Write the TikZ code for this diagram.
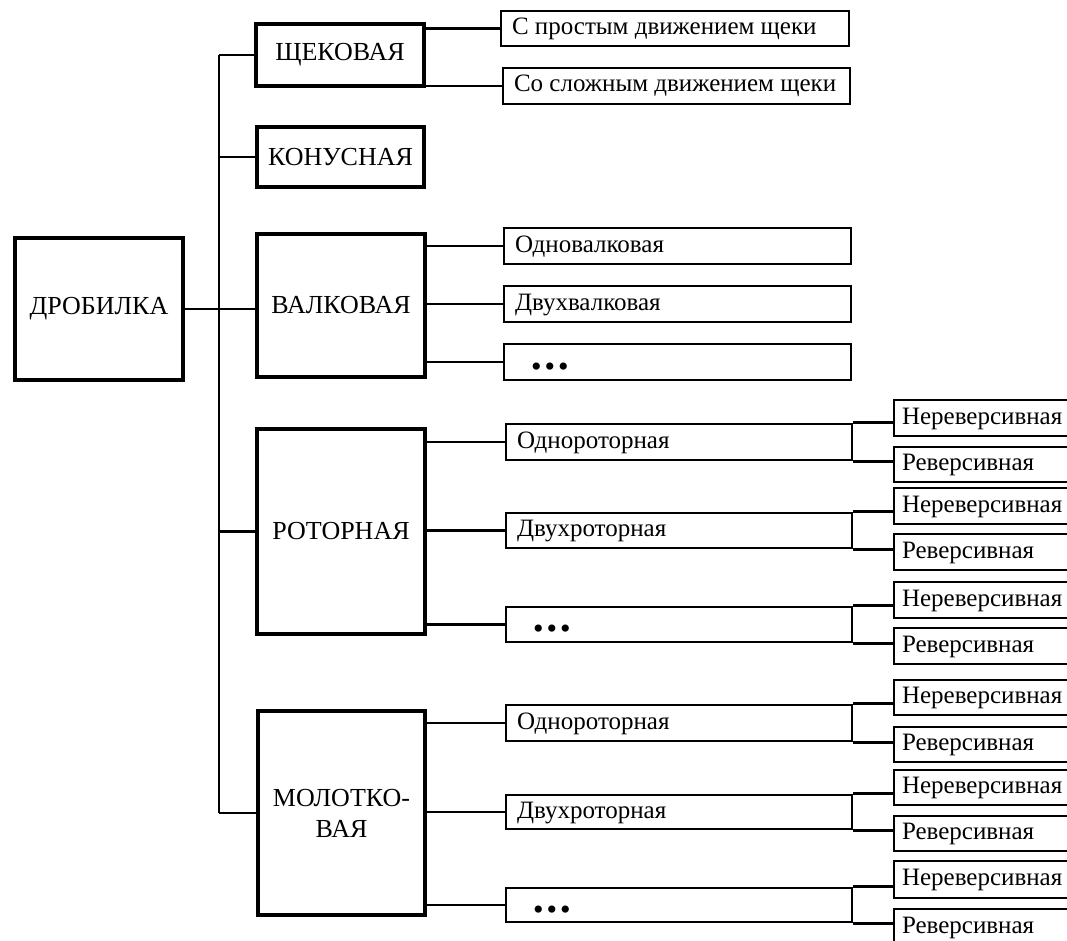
\documentclass[tikz,border=0pt]{standalone}
\usepackage{fontspec}
\setmainfont{Liberation Serif}
\newcommand\mkmain[6]{%
  \node[mainbox, minimum width={#5-#3}, minimum height={#6-#4}] (#1) at ({(#3+#5)/2},{(#4+#6)/2}) {#2};}
\newcommand\mksub[6]{%
  \pgfmathsetmacro\mytw{#5-#3-22}%
  \node[subbox, minimum width={#5-#3}, minimum height={#6-#4}] (#1) at ({(#3+#5)/2},{(#4+#6)/2}) {\makebox[\mytw pt][l]{#2}};}
\newcommand\mkleaf[6]{%
  \pgfmathsetmacro\mytw{#5-#3-16}%
  \node[leafbox, minimum width={#5-#3}, minimum height={#6-#4}] (#1) at ({(#3+#5)/2},{(#4+#6)/2}) {\makebox[\mytw pt][l]{#2}};}
\newcommand\mydots{\hspace{16pt}\raisebox{-8pt}{\fontsize{30}{30}\selectfont\textbullet\hspace{3pt}\textbullet\hspace{3pt}\textbullet}}
\begin{document}
\begin{tikzpicture}[x=1pt,y=-1pt,
  mainbox/.style={draw, line width=4.5pt, font=\fontsize{26}{31}\selectfont, align=center, inner sep=0pt},
  subbox/.style={draw, line width=2.8pt, font=\fontsize{25}{30}\selectfont, inner sep=0pt, text height=17pt, text depth=5pt},
  leafbox/.style={draw, line width=2.8pt, font=\fontsize{25}{30}\selectfont, inner sep=0pt, text height=17pt, text depth=5pt},
  link/.style={line width=2.8pt}]
\fill[white] (0,0) rectangle (1067,941);
\clip (0,0) rectangle (1067,941);
% main boxes
\mkmain{drob}{ДРОБИЛКА}{15}{238}{183}{380}
\mkmain{shch}{ЩЕКОВАЯ}{256}{24}{424}{86}
\mkmain{konus}{КОНУСНАЯ}{257}{127}{424}{187}
\mkmain{valk}{ВАЛКОВАЯ}{257}{234}{425}{377}
\mkmain{rotor}{РОТОРНАЯ}{257}{429}{425}{634}
\mkmain{molot}{МОЛОТКО-\\ВАЯ}{258}{711}{425}{915}
% sub boxes
\mksub{c1}{С простым движением щеки}{501}{11}{849}{46}
\mksub{c2}{Со сложным движением щеки}{503}{68}{850}{104}
\mksub{v1}{Одновалковая}{504}{228}{851}{264}
\mksub{v2}{Двухвалковая}{504}{286}{851}{322}
\mksub{v3}{\mydots}{504}{344}{851}{380}
\mksub{r1}{Однороторная}{506}{424}{852}{460}
\mksub{r2}{Двухроторная}{506}{513}{852}{548}
\mksub{r3}{\mydots}{506}{607}{852}{642}
\mksub{m1}{Однороторная}{506}{705}{852}{741}
\mksub{m2}{Двухроторная}{506}{795}{852}{829}
\mksub{m3}{\mydots}{506}{888}{852}{922}
% leaves
\mkleaf{rn1}{Нереверсивная}{894}{400}{1082}{436}
\mkleaf{rr1}{Реверсивная}{894}{447}{1082}{482}
\mkleaf{rn2}{Нереверсивная}{894}{488}{1082}{524}
\mkleaf{rr2}{Реверсивная}{894}{534}{1082}{570}
\mkleaf{rn3}{Нереверсивная}{894}{582}{1082}{618}
\mkleaf{rr3}{Реверсивная}{894}{628}{1082}{664}
\mkleaf{mn1}{Нереверсивная}{894}{680}{1082}{715}
\mkleaf{mr1}{Реверсивная}{894}{727}{1082}{762}
\mkleaf{mn2}{Нереверсивная}{894}{770}{1082}{805}
\mkleaf{mr2}{Реверсивная}{894}{816}{1082}{851}
\mkleaf{mn3}{Нереверсивная}{894}{861}{1082}{898}
\mkleaf{mr3}{Реверсивная}{894}{909}{1082}{945}
% trunk
\coordinate (tk) at (219,0);
\draw[link] (shch.west -| tk) -- (molot.west -| tk);
\foreach \n in {shch,konus,rotor,molot}
  \draw[link] (\n.west -| tk) -- (\n.west);
\draw[link] (drob.east) -- (valk.west |- drob.east);
% main to sub
\foreach \p/\c in {shch/c1,shch/c2,valk/v1,valk/v2,valk/v3,rotor/r1,rotor/r2,rotor/r3,molot/m1,molot/m2,molot/m3}
  \draw[link] (\p.east |- \c.west) -- (\c.west);
% sub to leaves
\foreach \s/\a/\b in {r1/rn1/rr1,r2/rn2/rr2,r3/rn3/rr3,m1/mn1/mr1,m2/mn2/mr2,m3/mn3/mr3}{
  \draw[link] (\s.north east) -- (\s.north east -| \a.west);
  \draw[link] (\s.south east) -- (\s.south east -| \b.west);
}
\end{tikzpicture}
\end{document}
